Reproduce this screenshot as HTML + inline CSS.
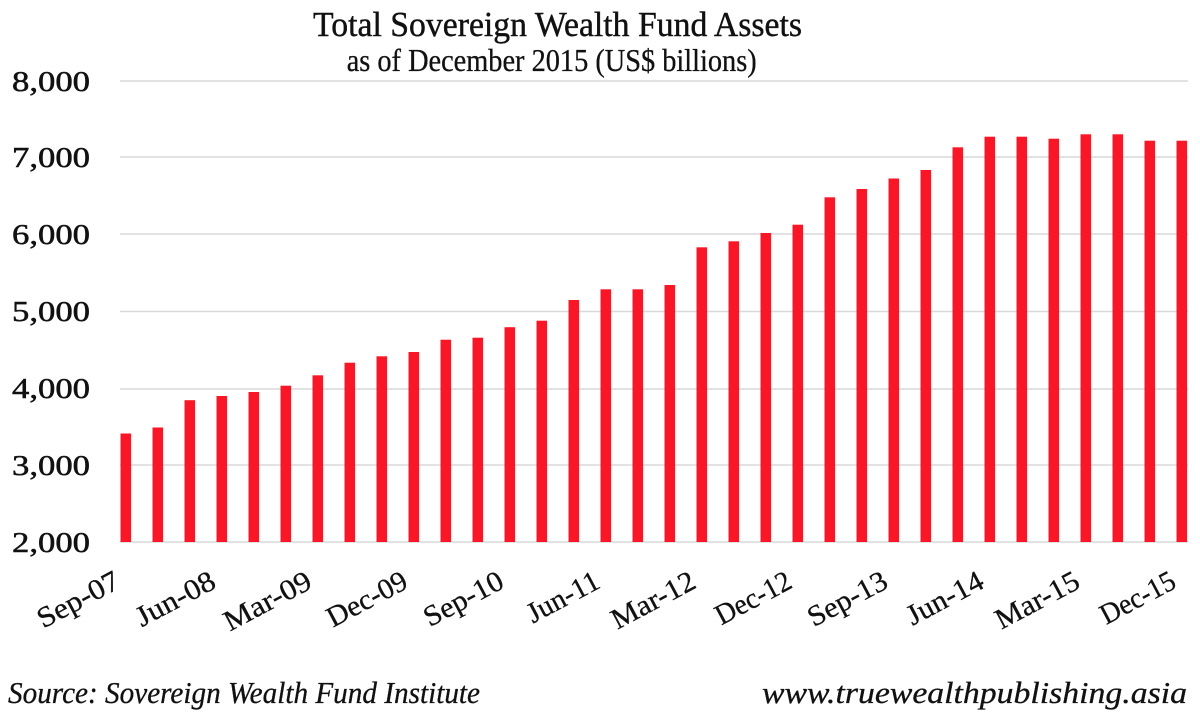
<!DOCTYPE html>
<html>
<head>
<meta charset="utf-8">
<style>
  html,body{margin:0;padding:0;background:#fff;}
  svg{display:block;}
  text{font-family:"Liberation Serif", serif; fill:#111;}
</style>
</head>
<body>
<svg width="1200" height="713" viewBox="0 0 1200 713" xmlns="http://www.w3.org/2000/svg">
  <rect width="1200" height="713" fill="#fff"/>
  <!-- Title -->
  <text x="557.5" y="36" font-size="35" text-anchor="middle" textLength="489" lengthAdjust="spacingAndGlyphs" stroke="#111" stroke-width="0.4">Total Sovereign Wealth Fund Assets</text>
  <text x="551.7" y="71" font-size="32" text-anchor="middle" textLength="410" lengthAdjust="spacingAndGlyphs" stroke="#111" stroke-width="0.3">as of December 2015 (US$ billions)</text>

  <!-- Gridlines -->
  <g stroke="#d9d9d9" stroke-width="1.6">
    <line x1="120" y1="81" x2="1188" y2="81"/>
    <line x1="120" y1="157" x2="1188" y2="157"/>
    <line x1="120" y1="234" x2="1188" y2="234"/>
    <line x1="120" y1="311.5" x2="1188" y2="311.5"/>
    <line x1="120" y1="389" x2="1188" y2="389"/>
    <line x1="120" y1="465" x2="1188" y2="465"/>
    <line x1="120" y1="542" x2="1188" y2="542"/>
  </g>

  <!-- Y labels -->
  <g font-size="28" stroke="#111" stroke-width="0.5">
    <text x="12" y="91" textLength="78" lengthAdjust="spacingAndGlyphs">8,000</text>
    <text x="12" y="167" textLength="78" lengthAdjust="spacingAndGlyphs">7,000</text>
    <text x="12" y="244" textLength="78" lengthAdjust="spacingAndGlyphs">6,000</text>
    <text x="12" y="321" textLength="78" lengthAdjust="spacingAndGlyphs">5,000</text>
    <text x="12" y="398" textLength="78" lengthAdjust="spacingAndGlyphs">4,000</text>
    <text x="12" y="475" textLength="78" lengthAdjust="spacingAndGlyphs">3,000</text>
    <text x="12" y="552" textLength="78" lengthAdjust="spacingAndGlyphs">2,000</text>
  </g>

  <!-- Bars -->
  <g fill="#fb1626">
    <rect x="120.5" y="433.5" width="10.5" height="108.5"/>
    <rect x="152.5" y="427.5" width="10.5" height="114.5"/>
    <rect x="184.5" y="400.2" width="10.5" height="141.8"/>
    <rect x="216.5" y="396" width="10.5" height="146"/>
    <rect x="248.5" y="392" width="10.5" height="150"/>
    <rect x="280.5" y="385.7" width="10.5" height="156.3"/>
    <rect x="312.5" y="375.3" width="10.5" height="166.7"/>
    <rect x="344.5" y="362.7" width="10.5" height="179.3"/>
    <rect x="376.5" y="356.3" width="10.5" height="185.7"/>
    <rect x="408.5" y="352" width="10.5" height="190"/>
    <rect x="440.5" y="339.7" width="10.5" height="202.3"/>
    <rect x="472.5" y="337.7" width="10.5" height="204.3"/>
    <rect x="504.5" y="327.2" width="10.5" height="214.8"/>
    <rect x="536.5" y="320.7" width="10.5" height="221.3"/>
    <rect x="568.5" y="300" width="10.5" height="242"/>
    <rect x="600.5" y="289.3" width="10.5" height="252.7"/>
    <rect x="632.5" y="289.3" width="10.5" height="252.7"/>
    <rect x="664.5" y="285" width="10.5" height="257"/>
    <rect x="696.5" y="247.3" width="10.5" height="294.7"/>
    <rect x="728.5" y="241.3" width="10.5" height="300.7"/>
    <rect x="760.5" y="233" width="10.5" height="309"/>
    <rect x="792.5" y="224.7" width="10.5" height="317.3"/>
    <rect x="824.5" y="197.3" width="10.5" height="344.7"/>
    <rect x="856.5" y="189" width="10.5" height="353"/>
    <rect x="888.5" y="178.5" width="10.5" height="363.5"/>
    <rect x="920.5" y="170" width="10.5" height="372"/>
    <rect x="952.5" y="147.3" width="10.5" height="394.7"/>
    <rect x="984.5" y="136.7" width="10.5" height="405.3"/>
    <rect x="1016.5" y="136.7" width="10.5" height="405.3"/>
    <rect x="1048.5" y="138.7" width="10.5" height="403.3"/>
    <rect x="1080.5" y="134.3" width="10.5" height="407.7"/>
    <rect x="1112.5" y="134.3" width="10.5" height="407.7"/>
    <rect x="1144.5" y="140.7" width="10.5" height="401.3"/>
    <rect x="1176.5" y="140.7" width="10.5" height="401.3"/>
  </g>

  <!-- X labels -->
  <g font-size="29" stroke="#111" stroke-width="0.3">
    <text transform="translate(43.2,628.7) rotate(-28)" textLength="89" lengthAdjust="spacingAndGlyphs">Sep-07</text>
    <text transform="translate(141.8,627.3) rotate(-28)" textLength="86" lengthAdjust="spacingAndGlyphs">Jun-08</text>
    <text transform="translate(229.9,631.6) rotate(-28)" textLength="95" lengthAdjust="spacingAndGlyphs">Mar-09</text>
    <text transform="translate(332.9,627.8) rotate(-28)" textLength="87" lengthAdjust="spacingAndGlyphs">Dec-09</text>
    <text transform="translate(429.8,627.3) rotate(-28)" textLength="86" lengthAdjust="spacingAndGlyphs">Sep-10</text>
    <text transform="translate(532.9,623.6) rotate(-28)" textLength="78" lengthAdjust="spacingAndGlyphs">Jun-11</text>
    <text transform="translate(617.4,629.7) rotate(-28)" textLength="91" lengthAdjust="spacingAndGlyphs">Mar-12</text>
    <text transform="translate(721.4,625.5) rotate(-28)" textLength="82" lengthAdjust="spacingAndGlyphs">Dec-12</text>
    <text transform="translate(813.8,627.3) rotate(-28)" textLength="86" lengthAdjust="spacingAndGlyphs">Sep-13</text>
    <text transform="translate(912.5,625.9) rotate(-28)" textLength="83" lengthAdjust="spacingAndGlyphs">Jun-14</text>
    <text transform="translate(1001.4,629.7) rotate(-28)" textLength="91" lengthAdjust="spacingAndGlyphs">Mar-15</text>
    <text transform="translate(1106.2,625) rotate(-28)" textLength="81" lengthAdjust="spacingAndGlyphs">Dec-15</text>
  </g>

  <!-- Footer -->
  <text x="8" y="703" font-size="31" font-style="italic" textLength="472" lengthAdjust="spacingAndGlyphs" stroke="#111" stroke-width="0.3">Source: Sovereign Wealth Fund Institute</text>
  <text x="762" y="703" font-size="31" font-style="italic" textLength="425" lengthAdjust="spacingAndGlyphs" stroke="#111" stroke-width="0.3">www.truewealthpublishing.asia</text>
</svg>
</body>
</html>
